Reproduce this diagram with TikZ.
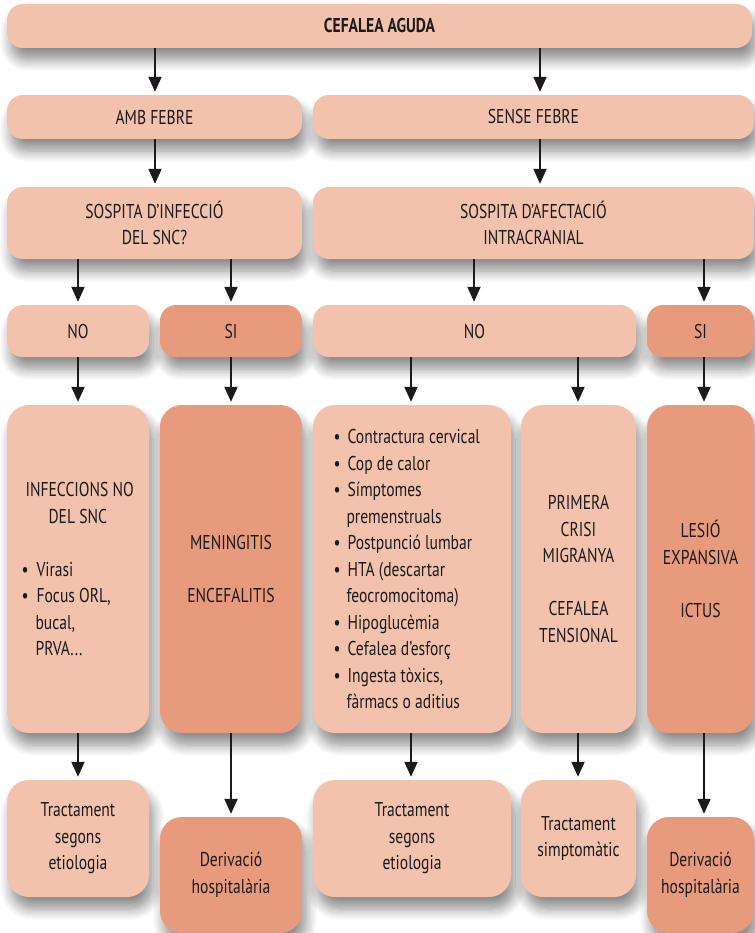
\documentclass[tikz,border=0pt]{standalone}
\usepackage{fontspec}
\setmainfont{PT Sans}[FakeStretch=0.78]
\usetikzlibrary{arrows.meta,shadows.blur}
\definecolor{boxlight}{RGB}{242,194,172}
\definecolor{boxdark}{RGB}{232,154,124}
\definecolor{ink}{RGB}{28,26,28}
\begin{document}
\begin{tikzpicture}[x=1pt,y=-1pt,
  every node/.style={font=\fontsize{20}{26.5}\selectfont, text=ink},
  basebox/.style={rounded corners=16pt, inner sep=0pt, align=center,
    blur shadow={shadow xshift=4pt, shadow yshift=-12pt, shadow blur radius=11pt,
      shadow blur steps=10, shadow opacity=45}},
  lbox/.style={basebox, fill=boxlight},
  dbox/.style={basebox, fill=boxdark},
  tall/.style={rounded corners=22pt},
  flow/.style={draw=ink, line width=2pt, -{Triangle[length=15pt,width=13pt]}, shorten >=3pt},
  bul/.style={align=left}
]
\useasboundingbox (0,0) rectangle (754,933);

% level 1
\node[lbox, minimum width=745pt, minimum height=44pt] (top) at (379.5,26) {\textbf{CEFALEA AGUDA}};

% level 2
\node[lbox, minimum width=295pt, minimum height=44pt] (amb) at (154.5,117) {AMB FEBRE};
\node[lbox, minimum width=441pt, minimum height=44pt] (sense) at (533.5,117) {SENSE FEBRE};

% level 3
\node[lbox, minimum width=295pt, minimum height=72pt] (infec) at (154.5,223) {SOSPITA D’INFECCIÓ\\DEL SNC?};
\node[lbox, minimum width=441pt, minimum height=72pt] (afect) at (533.5,223) {SOSPITA D’AFECTACIÓ\\INTRACRANIAL};

% level 4
\node[lbox, minimum width=142pt, minimum height=52pt] (noL) at (78,331) {NO};
\node[dbox, minimum width=142pt, minimum height=52pt] (siL) at (231,331) {SI};
\node[lbox, minimum width=323pt, minimum height=52pt] (noR) at (474.5,331) {NO};
\node[dbox, minimum width=107pt, minimum height=52pt] (siR) at (700.5,331) {SI};

% level 5
\node[lbox, tall, minimum width=142pt, minimum height=328pt] (infno) at (78,569) {};
\node[bul, anchor=west] at (infno.center -| 18,0) {\hspace*{4pt}INFECCIONS NO\\\hspace*{27pt}DEL SNC\\[26.5pt]%
  •\hspace{8pt}Virasi\\•\hspace{8pt}Focus ORL,\\\hspace*{14pt}bucal,\\\hspace*{14pt}PRVA...};
\node[dbox, tall, minimum width=142pt, minimum height=328pt] (menin) at (231,569) {MENINGITIS\\[26.5pt]ENCEFALITIS};
\node[lbox, tall, minimum width=198pt, minimum height=328pt] (causes) at (412,569) {};
\node[bul, anchor=west] at (causes.center -| 330,0) {•\hspace{7pt}Contractura cervical\\•\hspace{7pt}Cop de calor\\•\hspace{7pt}Símptomes\\\hspace*{13pt}premenstruals\\•\hspace{7pt}Postpunció lumbar\\•\hspace{7pt}HTA (descartar\\\hspace*{13pt}feocromocitoma)\\•\hspace{7pt}Hipoglucèmia\\•\hspace{7pt}Cefalea d’esforç\\•\hspace{7pt}Ingesta tòxics,\\\hspace*{13pt}fàrmacs o aditius};
\node[lbox, tall, minimum width=115pt, minimum height=328pt] (migr) at (578.5,569) {PRIMERA\\CRISI\\MIGRANYA\\[26.5pt]CEFALEA\\TENSIONAL};
\node[dbox, tall, minimum width=107pt, minimum height=328pt] (lesio) at (700.5,569) {LESIÓ\\EXPANSIVA\\[26.5pt]ICTUS};

% level 6
\node[lbox, tall, minimum width=142pt, minimum height=117pt] (tractA) at (78,838.5) {Tractament\\segons\\etiologia};
\node[dbox, tall, minimum width=142pt, minimum height=116pt] (derivA) at (231,875) {Derivació\\hospitalària};
\node[lbox, tall, minimum width=198pt, minimum height=117pt] (tractB) at (412,838.5) {Tractament\\segons\\etiologia};
\node[lbox, tall, minimum width=115pt, minimum height=117pt] (tractC) at (578.5,838.5) {Tractament\\simptomàtic};
\node[dbox, tall, minimum width=107pt, minimum height=116pt] (derivB) at (700.5,875) {Derivació\\hospitalària};

% connectors
\draw[flow] (top.south -| 155,0) -- (amb.north -| 155,0);
\draw[flow] (top.south -| 540,0) -- (sense.north -| 540,0);
\draw[flow] (amb.south -| 155,0) -- (infec.north -| 155,0);
\draw[flow] (sense.south -| 540,0) -- (afect.north -| 540,0);
\draw[flow] (infec.south -| noL.north) -- (noL.north);
\draw[flow] (infec.south -| siL.north) -- (siL.north);
\draw[flow] (afect.south -| 474,0) -- (noR.north -| 474,0);
\draw[flow] (afect.south -| 704,0) -- (siR.north -| 704,0);
\draw[flow] (noL.south) -- (infno.north);
\draw[flow] (siL.south) -- (menin.north);
\draw[flow] (noR.south -| 411,0) -- (causes.north -| 411,0);
\draw[flow] (noR.south -| 578,0) -- (migr.north -| 578,0);
\draw[flow] (siR.south -| 704,0) -- (lesio.north -| 704,0);
\draw[flow] (infno.south) -- (tractA.north);
\draw[flow] (menin.south) -- (derivA.north);
\draw[flow] (causes.south -| 411,0) -- (tractB.north -| 411,0);
\draw[flow] (migr.south -| 578,0) -- (tractC.north -| 578,0);
\draw[flow] (lesio.south -| 704,0) -- (derivB.north -| 704,0);
\end{tikzpicture}
\end{document}
